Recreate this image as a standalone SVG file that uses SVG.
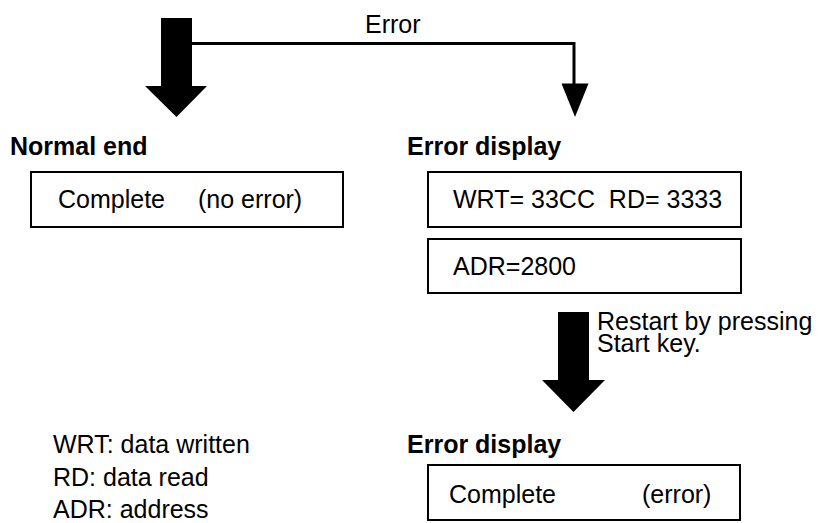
<svg xmlns="http://www.w3.org/2000/svg" width="819" height="523" viewBox="0 0 819 523">
<style>
text{font-family:"Liberation Sans",Arial,sans-serif;font-size:25px;fill:#000}
.b{font-weight:bold}
.box{fill:#fff;stroke:#000;stroke-width:2}
.big{fill:#000}
.ln{fill:none;stroke:#000;stroke-width:3}
</style>
<g id="connectors">
<path class="big" d="M161,18 H192 V86 H207 L176.5,117 L145,86 H161 Z"/>
<path class="ln" d="M192,43.5 H574 V84"/>
<path d="M561.5,83.5 H588.5 L575,117 Z" fill="#000"/>
<text x="365" y="33">Error</text>
<path class="big" d="M558,312 H589 V380 H605 L573.5,412 L542,380 H558 Z"/>
<text x="597" y="330">Restart by pressing</text>
<text x="597" y="352">Start key.</text>
</g>
<g id="normal-end">
<text class="b" x="10" y="155">Normal end</text>
<rect class="box" x="31" y="172" width="312" height="55"/>
<text x="58" y="208">Complete</text>
<text x="198" y="208">(no error)</text>
</g>
<g id="error-display-1">
<text class="b" x="407" y="155">Error display</text>
<rect class="box" x="428" y="172" width="313" height="55"/>
<text x="453" y="208" xml:space="preserve">WRT= 33CC  RD= 3333</text>
<rect class="box" x="428" y="239" width="313" height="54"/>
<text x="453" y="275">ADR=2800</text>
</g>
<g id="legend">
<text x="53" y="453">WRT: data written</text>
<text x="53" y="486">RD: data read</text>
<text x="53" y="518">ADR: address</text>
</g>
<g id="error-display-2">
<text class="b" x="407" y="453">Error display</text>
<rect class="box" x="428" y="465" width="312" height="55"/>
<text x="449" y="503">Complete</text>
<text x="642" y="503">(error)</text>
</g>
</svg>
